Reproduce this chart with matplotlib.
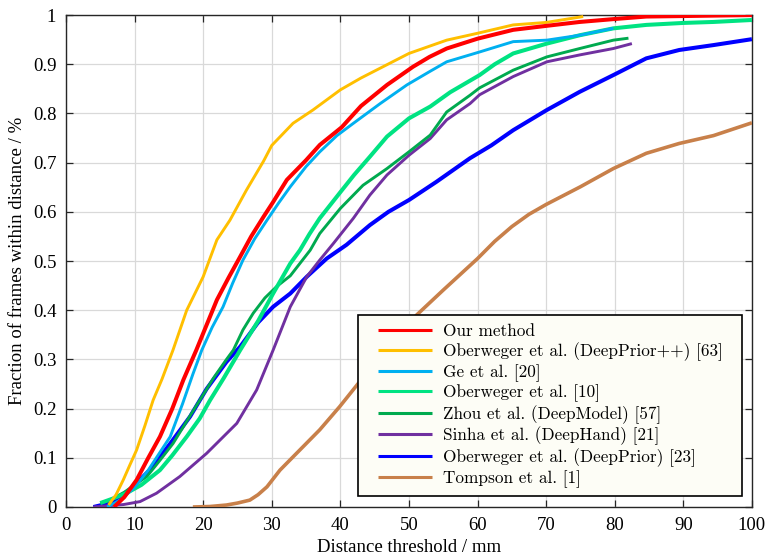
import matplotlib
matplotlib.use("Agg")
import matplotlib.pyplot as plt
from matplotlib.legend_handler import HandlerLine2D
import numpy as np

# curve data (distance in mm, fraction of frames)
ours_x = [7, 8.5, 10.3, 12, 13.7, 15.5, 17.1, 19, 20.5, 22, 23.7, 25.4, 27, 28.8, 30.2, 32.2, 35, 37,
          40.2, 43, 46.8, 50.6, 53, 55.5, 60, 65.2, 70, 74.9, 80, 84.6, 90, 95, 100]
ours_y = [0, 0.02, 0.055, 0.1, 0.143, 0.2, 0.258, 0.319, 0.37, 0.421, 0.466, 0.509, 0.55, 0.59, 0.62,
          0.665, 0.705, 0.736, 0.772, 0.815, 0.858, 0.895, 0.915, 0.932, 0.952, 0.97, 0.978, 0.986,
          0.992, 0.997, 0.998, 0.999, 1.0]

dpp_x = [6.2, 7.3, 8.35, 9.3, 10.3, 11.5, 12.7, 14, 15.6, 17.6, 20, 22, 23.9, 26.3, 28.8, 30, 33.1, 36,
         40, 43, 45.8, 50, 55.5, 60, 65.2, 70, 75.4]
dpp_y = [0.004, 0.025, 0.055, 0.085, 0.116, 0.165, 0.217, 0.26, 0.319, 0.40, 0.468, 0.543, 0.583, 0.644,
         0.703, 0.735, 0.78, 0.807, 0.848, 0.872, 0.892, 0.922, 0.949, 0.963, 0.98, 0.985, 0.997]

ge_x = [6, 8, 10, 12, 15.2, 17, 18.5, 19.8, 21.3, 22.9, 24.3, 25.8, 27.5, 29.3, 31, 32.7, 35, 37, 39.5,
        41.9, 45.8, 49.7, 53, 55.5, 60.3, 65.2, 70.1, 74.9, 79.8]
ge_y = [0, 0.015, 0.04, 0.075, 0.143, 0.21, 0.27, 0.319, 0.365, 0.407, 0.455, 0.502, 0.545, 0.583, 0.618,
        0.651, 0.692, 0.722, 0.755, 0.78, 0.82, 0.858, 0.885, 0.905, 0.925, 0.946, 0.949, 0.959, 0.973]

obw_x = [5, 7, 8.8, 11, 13.7, 15.5, 17.6, 19.5, 21, 23, 25.4, 28, 30.2, 32.7, 34.1, 35.5, 37, 40, 42,
         44.3, 46.8, 50, 53.1, 56, 60.3, 62.5, 65.2, 70.1, 74.9, 79.8, 84.6, 90, 94.4, 100]
obw_y = [0.008, 0.018, 0.028, 0.045, 0.075, 0.105, 0.143, 0.18, 0.217, 0.262, 0.319, 0.378, 0.434, 0.495,
         0.522, 0.555, 0.587, 0.64, 0.675, 0.712, 0.753, 0.79, 0.814, 0.843, 0.878, 0.9, 0.922, 0.942,
         0.959, 0.973, 0.98, 0.984, 0.986, 0.99]

zhou_x = [5, 6.4, 8.5, 10, 11.8, 13.7, 15.6, 17.5, 19.5, 21.5, 23.4, 24.4, 25.8, 27.3, 29, 30.7, 32.7,
          35.6, 37, 40, 43.3, 46.8, 50, 53.1, 55.5, 58.9, 60.3, 65.2, 70.1, 74.9, 79.8, 82]
zhou_y = [0.008, 0.014, 0.03, 0.045, 0.062, 0.095, 0.129, 0.172, 0.217, 0.262, 0.30, 0.319, 0.36, 0.394,
          0.425, 0.448, 0.47, 0.522, 0.556, 0.607, 0.654, 0.688, 0.722, 0.756, 0.803, 0.837, 0.852,
          0.888, 0.915, 0.932, 0.949, 0.953]

sinha_x = [4, 8.4, 10.8, 13.2, 16.6, 20.5, 24.9, 27.8, 30.2, 32.7, 35.1, 37, 39, 41.9, 44.3, 46.8, 50,
           53.1, 55.5, 58.9, 60.3, 65.2, 70.1, 74.9, 79.8, 82.5]
sinha_y = [0, 0.005, 0.011, 0.028, 0.062, 0.109, 0.17, 0.238, 0.319, 0.407, 0.468, 0.502, 0.536, 0.587,
           0.634, 0.675, 0.715, 0.749, 0.787, 0.82, 0.838, 0.875, 0.905, 0.919, 0.932, 0.942]

dp_x = [4, 6.4, 9.3, 12.2, 15.2, 18.1, 20.5, 23.4, 25.4, 28, 30.2, 32.7, 35.1, 38, 40.9, 44.3, 47, 50,
        54, 58.9, 62, 65.2, 70.1, 74.9, 79.8, 84.6, 89.4, 94.4, 100]
dp_y = [0, 0.008, 0.035, 0.075, 0.129, 0.184, 0.24, 0.295, 0.326, 0.375, 0.407, 0.434, 0.468, 0.505,
        0.533, 0.573, 0.6, 0.624, 0.661, 0.709, 0.735, 0.766, 0.807, 0.844, 0.878, 0.912, 0.929, 0.939,
        0.951]

tomp_x = [18.5, 21, 23.4, 25, 26.8, 28, 29.3, 31.2, 34.1, 37, 39.9, 42.6, 45, 48, 51.1, 55, 60, 62.5,
          65, 67.5, 70, 75, 79.8, 84.6, 89.4, 94.4, 100]
tomp_y = [0, 0.001, 0.004, 0.008, 0.014, 0.025, 0.041, 0.075, 0.116, 0.157, 0.204, 0.251, 0.29, 0.34,
          0.39, 0.441, 0.505, 0.54, 0.57, 0.595, 0.615, 0.651, 0.688, 0.719, 0.739, 0.755, 0.781]

labels = ["Our method", "Oberweger et al. (DeepPrior++) [63]", "Ge et al. [20]",
          "Oberweger et al. [10]", "Zhou et al. (DeepModel) [57]", "Sinha et al. (DeepHand) [21]",
          "Oberweger et al. (DeepPrior) [23]", "Tompson et al. [1]"]

series = [(ours_x, ours_y, "#ff0000", 2.9),
          (dpp_x, dpp_y, "#ffbf00", 2.1),
          (ge_x, ge_y, "#00b0f0", 2.1),
          (obw_x, obw_y, "#00e382", 2.9),
          (zhou_x, zhou_y, "#00aa4f", 2.1),
          (sinha_x, sinha_y, "#7030a0", 2.1),
          (dp_x, dp_y, "#0000ff", 2.9),
          (tomp_x, tomp_y, "#c8804a", 2.6)]

plt.rcParams['font.family'] = ['Liberation Serif', 'DejaVu Serif']

fig = plt.figure(figsize=(7.69, 5.58), dpi=100)
ax = fig.add_axes([0.0858, 0.0914, 0.892, 0.8816])

# draw back to front so "Our method" ends up on top
handles = []
for (xs, ys, col, lw), lab in zip(series, labels):
    h, = ax.plot(xs, ys, color=col, lw=lw, label=lab, solid_capstyle='butt')
    handles.append(h)
for i, h in enumerate(handles):
    h.set_zorder(10 - i)

ax.set_xlim(0, 100)
ax.set_ylim(0, 1)
ax.set_xticks(np.arange(0, 101, 10))
ax.set_yticks(np.arange(0, 1.01, 0.1))
ax.set_yticklabels(["0"] + ["%.1f" % v for v in np.arange(0.1, 0.95, 0.1)] + ["1"])
ax.grid(True, color='#d9d9d9', lw=0.9)
ax.set_axisbelow(True)
ax.tick_params(direction='in', top=True, right=True, length=5, width=0.9, labelsize=13.5,
               color='#262626', pad=7)
for s in ax.spines.values():
    s.set_color('#262626')
    s.set_linewidth(1.0)

ax.set_xlabel("Distance threshold / mm", fontsize=13.5, labelpad=4)
ax.set_ylabel("Fraction of frames within distance / %", fontsize=13.5, labelpad=5)

leg = ax.legend(handles=handles, loc='lower left', bbox_to_anchor=(0.426, 0.022, 0.56, 0.37),
                mode='expand', borderaxespad=0, fancybox=False, framealpha=1, edgecolor='black',
                facecolor='#fdfdf6', prop={'family': ['cmr10', 'DejaVu Serif'], 'size': 12.4},
                numpoints=2, handlelength=4.45, handletextpad=0.0, labelspacing=0.17, borderpad=0.5,
                handler_map={h: HandlerLine2D(marker_pad=0.66) for h in handles})
leg.get_frame().set_linewidth(1.2)
leg.set_zorder(20)
for ln in leg.get_lines():
    ln.set_linewidth(2.2)

fig.savefig("out.png", dpi=100)
